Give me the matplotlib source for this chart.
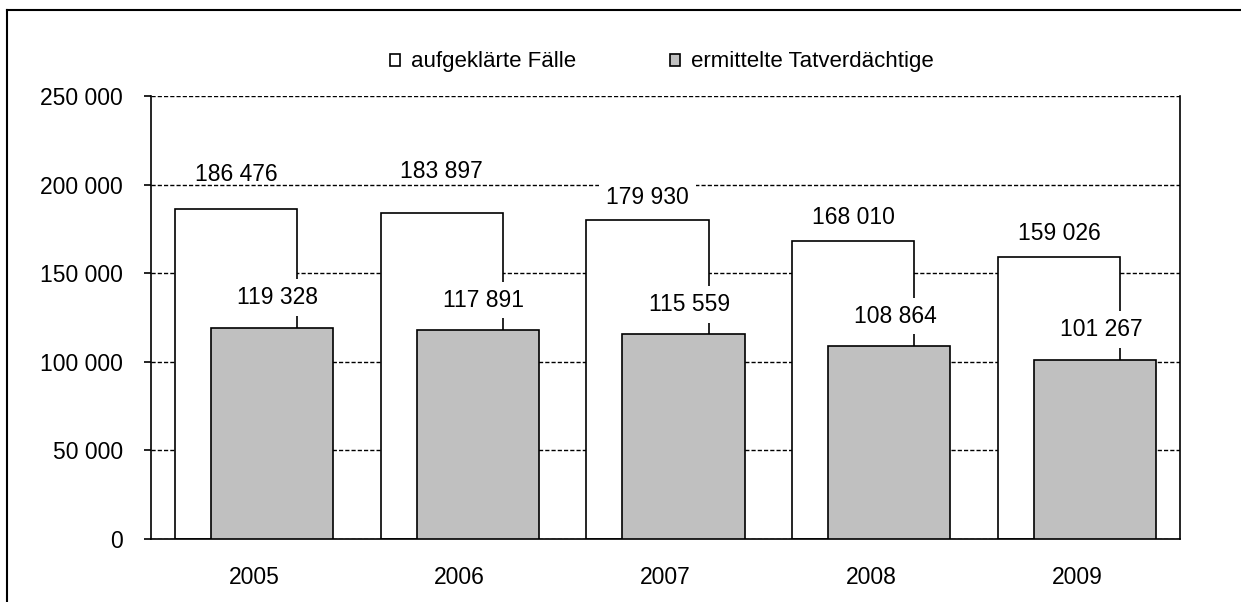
import matplotlib
matplotlib.use("Agg")
import matplotlib.pyplot as plt
from matplotlib.patches import Patch
from matplotlib.lines import Line2D
from matplotlib.ticker import FuncFormatter
import numpy as np

plt.rcParams['font.family'] = ['Liberation Sans', 'DejaVu Sans']

years = ['2005', '2006', '2007', '2008', '2009']
faelle = [186476, 183897, 179930, 168010, 159026]
verdaechtige = [119328, 117891, 115559, 108864, 101267]
legend_labels = ['aufgeklärte Fälle', 'ermittelte Tatverdächtige']

# label lift above the bar top in pixels (first two were moved up in the original)
lift_white = [34, 42, 23, 24, 24]
boxed_white = [False, False, True, True, True]


def fmt(v):
    return f"{v:,.0f}".replace(",", " ")


fig = plt.figure(figsize=(12.41, 6.02), dpi=100)
ax = fig.add_axes([151 / 1241, 1 - 539 / 602, (1180 - 151) / 1241, (539 - 96) / 602])

x = np.arange(len(years))
off = 0.0875
w = 0.593
ax.bar(x - off, faelle, width=w, color='white', edgecolor='black', linewidth=1.2, zorder=2)
ax.bar(x + off, verdaechtige, width=w, color='#C0C0C0', edgecolor='black', linewidth=1.2, zorder=3)

for i in range(len(years)):
    box = dict(boxstyle='square,pad=0.3', fc='white', ec='none') if boxed_white[i] else None
    ax.annotate(fmt(faelle[i]), xy=(x[i] - off, faelle[i]), xytext=(0, lift_white[i]),
                textcoords='offset pixels', ha='center', va='center', fontsize=16.5,
                bbox=box, zorder=5)
    ax.annotate(fmt(verdaechtige[i]), xy=(x[i] + off, verdaechtige[i]), xytext=(6, 30),
                textcoords='offset pixels', ha='center', va='center', fontsize=16.5,
                bbox=dict(boxstyle='square,pad=0.3', fc='white', ec='none'), zorder=5)

ax.set_xlim(-0.5, len(years) - 0.5)
ax.set_ylim(0, 250000)
ax.set_yticks(np.arange(0, 250001, 50000))
ax.yaxis.set_major_formatter(FuncFormatter(lambda v, p: fmt(v)))
ax.set_xticks(x)
ax.set_xticklabels(years)
ax.tick_params(axis='y', length=5, width=1.2, pad=15, labelsize=16.5)
ax.tick_params(axis='x', length=0, pad=19.5, labelsize=16.5)

ax.set_axisbelow(True)
ax.yaxis.grid(True, linestyle=(0, (3, 1.5)), color='black', linewidth=1.0)
ax.spines['top'].set_visible(False)
for s in ['left', 'right', 'bottom']:
    ax.spines[s].set_linewidth(1.2)

handles = [Patch(facecolor='white', edgecolor='black', linewidth=1.2),
           Patch(facecolor='#C0C0C0', edgecolor='black', linewidth=1.2)]
fig.legend(handles, legend_labels, loc='center left', bbox_to_anchor=(390 / 1241, 1 - 62 / 602),
           ncol=2, frameon=False, fontsize=16, borderpad=0, borderaxespad=0,
           handlelength=0.45, handleheight=0.45, handletextpad=0.5, columnspacing=4.2)

# outer frame (cut off at right and bottom in the original)
fig.add_artist(Line2D([7 / 1241, 7 / 1241], [-0.1, 1 - 10 / 602], color='black', linewidth=1.5))
fig.add_artist(Line2D([7 / 1241, 1.1], [1 - 10 / 602, 1 - 10 / 602], color='black', linewidth=1.5))

fig.savefig('out.png', dpi=100)
